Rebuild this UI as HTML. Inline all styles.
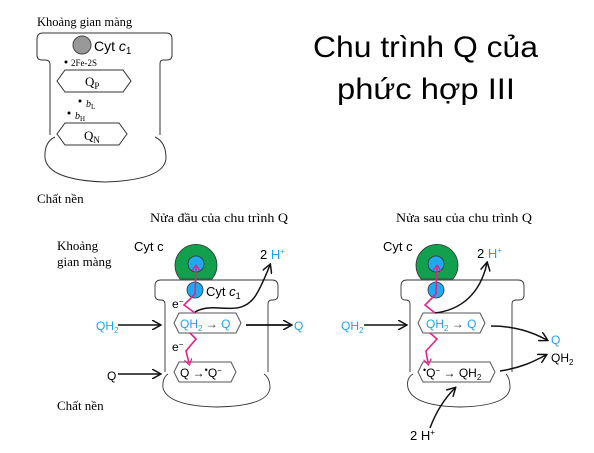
<!DOCTYPE html>
<html><head><meta charset="utf-8"><style>
html,body{margin:0;padding:0;background:#fff;}
svg{display:block;}
.s{font-family:"Liberation Serif",serif;}
.a{font-family:"Liberation Sans",sans-serif;}
</style></head><body>
<svg width="594" height="453" viewBox="0 0 594 453" xmlns="http://www.w3.org/2000/svg">
<defs>
<marker id="ah" markerWidth="10" markerHeight="10" refX="8" refY="5" orient="auto" markerUnits="userSpaceOnUse"><path d="M0,0 L9,5 L0,10" fill="none" stroke="#111" stroke-width="1.5"/></marker>
<marker id="pk" markerWidth="8" markerHeight="8" refX="4" refY="4" orient="auto" markerUnits="userSpaceOnUse"><path d="M0,0 L6,4 L0,8" fill="none" stroke="#e0248a" stroke-width="1.3"/></marker>
</defs>
<!-- Title -->
<text x="313" y="57" class="a" font-size="30" textLength="225" lengthAdjust="spacingAndGlyphs" fill="#000">Chu trình Q của</text>
<text x="337" y="99" class="a" font-size="30" textLength="178" lengthAdjust="spacingAndGlyphs" fill="#000">phức hợp III</text>

<!-- top-left diagram -->
<text x="37" y="26" class="s" font-size="12.5">Khoảng gian màng</text>
<path d="M50,135 L50,64 Q50,60 45,60 L42,60 Q37,60 37,55 L37,39 Q37,33 43,33 L166,33 Q172,33 172,39 L172,55 Q172,60 167,60 L163,60 Q160,60 160,64 L160,135" fill="none" stroke="#333" stroke-width="1"/>
<path d="M55,137 Q44,142 45,158 Q48,180 105,182 Q165,180 166,158 Q166,142 155,137" fill="none" stroke="#333" stroke-width="1"/>
<circle cx="82" cy="45" r="9" fill="#999" stroke="#444" stroke-width="1"/>
<text x="94" y="51" class="a" font-size="14">Cyt <tspan font-style="italic">c</tspan><tspan font-size="10" dy="3">1</tspan></text>
<circle cx="66" cy="62" r="1.5" fill="#000"/>
<text x="71" y="66" class="s" font-size="9">2Fe-2S</text>
<path d="M65,70 L123,70 L131,81 L123,92 L65,92 L57,81 Z" fill="none" stroke="#333"/>
<text x="85" y="86" class="s" font-size="13">Q<tspan font-size="9" dy="3">P</tspan></text>
<circle cx="80" cy="101" r="1.5" fill="#000"/>
<text x="86" y="107" class="s" font-size="10" font-style="italic">b<tspan font-size="7" dy="2" font-style="normal">L</tspan></text>
<circle cx="69" cy="113" r="1.5" fill="#000"/>
<text x="75" y="119" class="s" font-size="10" font-style="italic">b<tspan font-size="7" dy="2" font-style="normal">H</tspan></text>
<path d="M65,123 L119,123 L127,134 L119,145 L65,145 L57,134 Z" fill="#fff" stroke="#333"/>
<text x="84" y="140" class="s" font-size="13">Q<tspan font-size="9" dy="3">N</tspan></text>
<text x="37" y="203" class="s" font-size="13">Chất nền</text>

<!-- middle headings -->
<text x="150" y="222" class="s" font-size="13" textLength="138" lengthAdjust="spacingAndGlyphs">Nửa đầu của chu trình Q</text>
<text x="396" y="222" class="s" font-size="13" textLength="136" lengthAdjust="spacingAndGlyphs">Nửa sau của chu trình Q</text>
<text x="57" y="250" class="s" font-size="13">Khoảng</text>
<text x="57" y="266" class="s" font-size="13">gian màng</text>
<text x="57" y="410" class="s" font-size="13">Chất nền</text>

<!-- Left panel -->
<g>
<path d="M180,279 A21,21 0 1 1 212,279 Z" fill="#12a04e" stroke="#333" stroke-width="0.8"/>
<circle cx="196" cy="264" r="8" fill="#1eaaf1" stroke="#333" stroke-width="0.8"/>
<path d="M165,372 L165,304 Q165,300 161,300 L160,300 Q155,300 155,295 L155,286 Q155,280 161,280 L272,280 Q278,280 278,286 L278,295 Q278,300 273,300 L272,300 Q268,300 268,304 L268,372" fill="none" stroke="#333" stroke-width="0.9"/>
<path d="M168,374 Q162,378 163,388 Q168,406 217,407 Q268,406 270,388 Q270,378 264,374" fill="none" stroke="#333" stroke-width="0.9"/>
<circle cx="195" cy="290" r="8" fill="#1eaaf1" stroke="#333" stroke-width="0.8"/>
<text x="206" y="296" class="a" font-size="13">Cyt <tspan font-style="italic">c</tspan><tspan font-size="9" dy="3">1</tspan></text>
<path d="M179,313 L236,313 L241,323 L236,333 L179,333 L174,323 Z" fill="#fff" stroke="#555"/>
<text x="180" y="328" class="a" font-size="12" fill="#1ea5e8">QH<tspan font-size="8" dy="3">2</tspan><tspan dy="-3" fill="#333"> → </tspan>Q</text>
<path d="M179,362 L231,362 L236,372 L231,382 L179,382 L174,372 Z" fill="#fff" stroke="#555"/>
<text x="180" y="377" class="a" font-size="12">Q →<tspan font-size="9" dy="-4">•</tspan><tspan dy="4">Q</tspan><tspan font-size="8" dy="-4">−</tspan></text>
<text x="172" y="308" class="a" font-size="12">e<tspan font-size="8" dy="-4">−</tspan></text>
<text x="172" y="351" class="a" font-size="12">e<tspan font-size="8" dy="-4">−</tspan></text>
<polyline points="195,313 184,305 195,294 196,267" fill="none" stroke="#e0248a" stroke-width="1.6" marker-end="url(#pk)"/>
<polyline points="190,333 196,339 186,351 189,363" fill="none" stroke="#e0248a" stroke-width="1.6" marker-end="url(#pk)"/>
<path d="M195,312 C215,300 240,320 256,295 C262,285 266,275 270,265" fill="none" stroke="#111" stroke-width="1.5" marker-end="url(#ah)"/>
<text x="260" y="259" class="a" font-size="13">2 <tspan fill="#1ea5e8">H</tspan><tspan font-size="8" dy="-5" fill="#1ea5e8">+</tspan></text>
<text x="96" y="330" class="a" font-size="12" fill="#1ea5e8">QH<tspan font-size="8" dy="3">2</tspan></text>
<line x1="118" y1="325" x2="160" y2="325" stroke="#111" stroke-width="1.6" marker-end="url(#ah)"/>
<text x="107" y="380" class="a" font-size="12">Q</text>
<line x1="118" y1="374" x2="160" y2="374" stroke="#111" stroke-width="1.6" marker-end="url(#ah)"/>
<line x1="246" y1="325" x2="291" y2="325" stroke="#111" stroke-width="1.8" marker-end="url(#ah)"/>
<text x="294" y="330" class="a" font-size="12" fill="#1ea5e8">Q</text>
</g>

<!-- Right panel -->
<g>
<text x="383" y="251" class="a" font-size="13">Cyt c</text>
<path d="M421,279 A21,21 0 1 1 453,279 Z" fill="#12a04e" stroke="#333" stroke-width="0.8"/>
<circle cx="436" cy="264" r="8" fill="#1eaaf1" stroke="#333" stroke-width="0.8"/>
<path d="M410,372 L410,304 Q410,300 406,300 L405,300 Q401,300 401,295 L401,286 Q401,280 407,280 L518,280 Q524,280 524,286 L524,295 Q524,300 519,300 L516,300 Q512,300 512,304 L512,372" fill="none" stroke="#333" stroke-width="0.9"/>
<path d="M413,374 Q406,378 408,388 Q413,406 460,407 Q508,406 510,388 Q510,378 506,374" fill="none" stroke="#333" stroke-width="0.9"/>
<circle cx="436" cy="290" r="8" fill="#1eaaf1" stroke="#333" stroke-width="0.8"/>
<path d="M423,313 L480,313 L485,323 L480,333 L423,333 L418,323 Z" fill="#fff" stroke="#555"/>
<text x="426" y="328" class="a" font-size="12" fill="#1ea5e8">QH<tspan font-size="8" dy="3">2</tspan><tspan dy="-3" fill="#333"> → </tspan>Q</text>
<path d="M423,362 L490,362 L495,372 L490,382 L423,382 L418,372 Z" fill="#fff" stroke="#555"/>
<text x="423" y="377" class="a" font-size="12"><tspan font-size="9" dy="-4">•</tspan><tspan dy="4">Q</tspan><tspan font-size="8" dy="-4">−</tspan><tspan dy="4">  → QH</tspan><tspan font-size="8" dy="3">2</tspan></text>
<polyline points="435,313 425,305 436,294 437,267" fill="none" stroke="#e0248a" stroke-width="1.6" marker-end="url(#pk)"/>
<polyline points="430,333 437,339 426,351 428,363" fill="none" stroke="#e0248a" stroke-width="1.6" marker-end="url(#pk)"/>
<path d="M435,313 C460,310 480,295 487,263" fill="none" stroke="#111" stroke-width="1.5" marker-end="url(#ah)"/>
<text x="477" y="258" class="a" font-size="13">2 <tspan fill="#1ea5e8">H</tspan><tspan font-size="8" dy="-5" fill="#1ea5e8">+</tspan></text>
<text x="341" y="330" class="a" font-size="12" fill="#1ea5e8">QH<tspan font-size="8" dy="3">2</tspan></text>
<line x1="364" y1="325" x2="406" y2="325" stroke="#111" stroke-width="1.6" marker-end="url(#ah)"/>
<path d="M491,326 C515,326 532,332 547,340" fill="none" stroke="#111" stroke-width="1.5" marker-end="url(#ah)"/>
<text x="551" y="344" class="a" font-size="12" fill="#1ea5e8">Q</text>
<path d="M500,371 C520,368 533,362 546,355" fill="none" stroke="#111" stroke-width="1.5" marker-end="url(#ah)"/>
<text x="551" y="362" class="a" font-size="12">QH<tspan font-size="8" dy="3">2</tspan></text>
<path d="M430,428 C436,412 445,398 455,388" fill="none" stroke="#111" stroke-width="1.5" marker-end="url(#ah)"/>
<text x="410" y="440" class="a" font-size="13">2 H<tspan font-size="8" dy="-5">+</tspan></text>
</g>
<text x="134" y="251" class="a" font-size="13">Cyt c</text>
</svg>
</body></html>
